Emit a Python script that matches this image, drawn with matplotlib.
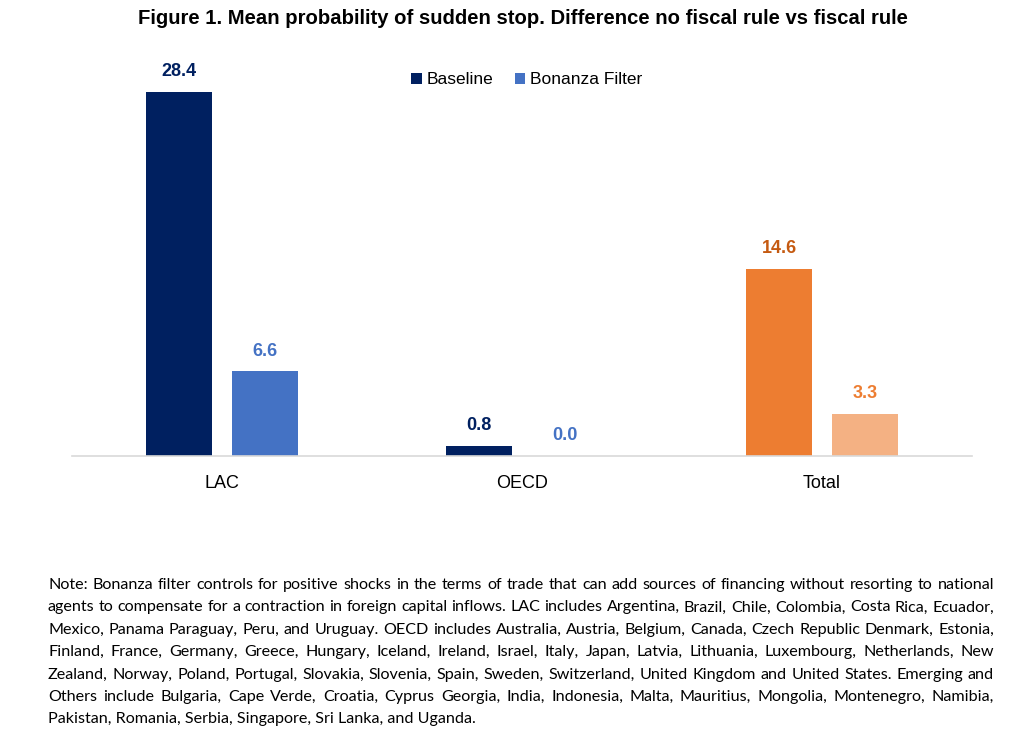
import matplotlib
matplotlib.use("Agg")
import matplotlib.pyplot as plt
from matplotlib import font_manager as fm
import numpy as np

categories = ["LAC", "OECD", "Total"]
baseline = [28.4, 0.8, 14.6]
bonanza = [6.6, 0.0, 3.3]
series_names = ["Baseline", "Bonanza Filter"]
title = "Figure 1. Mean probability of sudden stop. Difference no fiscal rule vs fiscal rule"
note_lines = [
    "Note: Bonanza filter controls for positive shocks in the terms of trade that can add sources of financing without resorting to national",
    "agents to compensate for a contraction in foreign capital inflows. LAC includes Argentina, Brazil, Chile, Colombia, Costa Rica, Ecuador,",
    "Mexico, Panama Paraguay, Peru, and Uruguay. OECD includes Australia, Austria, Belgium, Canada, Czech Republic Denmark, Estonia,",
    "Finland, France, Germany, Greece, Hungary, Iceland, Ireland, Israel, Italy, Japan, Latvia, Lithuania, Luxembourg, Netherlands, New",
    "Zealand, Norway, Poland, Portugal, Slovakia, Slovenia, Spain, Sweden, Switzerland, United Kingdom and United States. Emerging and",
    "Others include Bulgaria, Cape Verde, Croatia, Cyprus Georgia, India, Indonesia, Malta, Mauritius, Mongolia, Montenegro, Namibia,",
    "Pakistan, Romania, Serbia, Singapore, Sri Lanka, and Uganda.",
]

base_colors = ["#002060", "#002060", "#ED7D31"]
bon_colors = ["#4472C4", "#4472C4", "#F4B183"]
base_label_colors = ["#002060", "#002060", "#C55A11"]
bon_label_colors = ["#4472C4", "#4472C4", "#ED7D31"]

names = {f.name for f in fm.fontManager.ttflist}
narrow = "Liberation Sans Narrow" if "Liberation Sans Narrow" in names else "Liberation Sans"
body = "Lato" if "Lato" in names else "DejaVu Sans"

W, H = 1024, 740
fig = plt.figure(figsize=(W / 100, H / 100), dpi=100)
ax = fig.add_axes([72 / W, (H - 456) / H, 900 / W, 384.6 / H])

x = np.arange(len(categories))
bw = 0.22
off = 0.143
b1 = ax.bar(x - off, baseline, bw, color=base_colors, label=series_names[0])
b2 = ax.bar(x + off, bonanza, bw, color=bon_colors, label=series_names[1])

for i in range(len(categories)):
    ax.text(x[i] - off, baseline[i] + 0.9, f"{baseline[i]:.1f}", ha="center", va="bottom",
            fontsize=13, fontweight="bold", color=base_label_colors[i], family=narrow)
    ax.text(x[i] + off, bonanza[i] + 0.9, f"{bonanza[i]:.1f}", ha="center", va="bottom",
            fontsize=13, fontweight="bold", color=bon_label_colors[i], family=narrow)

ax.set_xlim(-0.5, 2.5)
ax.set_ylim(0, 30)
ax.set_yticks([])
ax.set_xticks(x)
ax.set_xticklabels(categories, fontsize=13, family=narrow)
ax.tick_params(axis="x", length=0, pad=14)
for s in ["top", "right", "left"]:
    ax.spines[s].set_visible(False)
ax.spines["bottom"].set_color("#D9D9D9")
ax.spines["bottom"].set_linewidth(1.2)

leg = ax.legend(handles=[b1.patches[0], b2.patches[0]], labels=series_names,
                loc="center", bbox_to_anchor=(527 / W, (H - 80) / H),
                bbox_transform=fig.transFigure, ncol=2, frameon=False,
                prop={"family": narrow, "size": 12.5}, handlelength=0.6, handleheight=0.6,
                handletextpad=0.3, columnspacing=1.2)

fig.text(523 / W, 1 - 18 / H, title, ha="center", va="center", fontsize=14.6,
         fontweight="bold", family=narrow)

# justified note
fig.canvas.draw()
renderer = fig.canvas.get_renderer()
left, right = 48, 994
y0, dy = 585, 22.4
fs = 11.6
for li, line in enumerate(note_lines):
    ypix = y0 + li * dy
    words = line.split(" ")
    if li == len(note_lines) - 1:
        fig.text(left / W, 1 - ypix / H, line, ha="left", va="center", fontsize=fs, family=body)
        continue
    arts = []
    widths = []
    for w in words:
        t = fig.text(0, 1 - ypix / H, w, ha="left", va="center", fontsize=fs, family=body)
        arts.append(t)
        widths.append(t.get_window_extent(renderer).width)
    gap = (right - left - sum(widths)) / (len(words) - 1)
    xp = left
    for t, wd in zip(arts, widths):
        t.set_x(xp / W)
        xp += wd + gap

fig.savefig("out.png", dpi=100)
